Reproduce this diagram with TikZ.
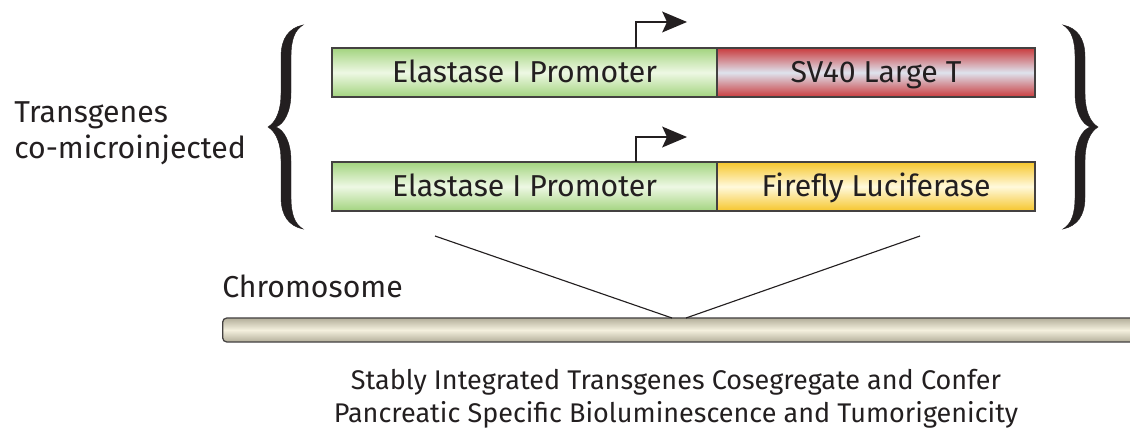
\documentclass[tikz,border=0pt]{standalone}
\usepackage{fontspec}
\setmainfont{Fira Sans}
\usetikzlibrary{positioning,arrows.meta}

\definecolor{ink}{HTML}{231F20}
\definecolor{promedge}{HTML}{A3D47F}
\definecolor{prommid}{HTML}{EEF8E4}
\definecolor{tagedge}{HTML}{C93B3D}
\definecolor{tagmid}{HTML}{DEE3EE}
\definecolor{lucedge}{HTML}{F6C62C}
\definecolor{lucmid}{HTML}{FFF9DC}
\definecolor{chromedge}{HTML}{B3AE9A}
\definecolor{chrommid}{HTML}{F4F0DE}

% curly brace, tip at the origin, opening to the right
\newcommand\bracepath{(0,0) .. controls (8,-5) and (13,-16) .. (13,-34) -- (13,-70)
  .. controls (13,-89) and (21,-99) .. (35,-102) .. controls (27,-97) and (23,-88) .. (23,-70)
  -- (23,-34) .. controls (23,-15) and (16,-3) .. (8,0)
  .. controls (16,3) and (23,15) .. (23,34) -- (23,70)
  .. controls (23,88) and (27,97) .. (35,102) .. controls (21,99) and (13,89) .. (13,70)
  -- (13,34) .. controls (13,16) and (8,5) .. (0,0) -- cycle}

\begin{document}
\begin{tikzpicture}[x=0.025cm,y=-0.025cm,
  gene/.style={draw=ink!85,line width=1pt,minimum height=1.225cm,inner sep=0pt,outer sep=0pt,
    text=ink,font=\fontsize{21.5}{25}\selectfont,text height=0.52cm,text depth=0pt},
  promoter/.style={gene,minimum width=9.625cm,top color=promedge,bottom color=promedge,middle color=prommid},
  tag/.style={gene,minimum width=7.95cm,top color=tagedge,bottom color=tagedge,middle color=tagmid},
  luc/.style={gene,minimum width=7.95cm,top color=lucedge,bottom color=lucedge,middle color=lucmid},
  label/.style={text=ink,inner sep=0pt},
  tss/.style={line width=1.2pt,draw=ink,-{Stealth[length=0.62cm,width=0.52cm,inset=0.12cm]}},
  brace/.style={fill=ink,draw=ink,line width=0.3pt}]

\useasboundingbox (0,0) rectangle (1130,431);

% the two constructs
\node[promoter] (prom1) at (524.5,72.5) {Elastase I Promoter};
\node[tag] (sv40) [right=0pt of prom1] {SV40 Large T};
\node[promoter] (prom2) [below=1.625cm of prom1] {Elastase I Promoter};
\node[luc] (luc) [right=0pt of prom2] {Firefly Luciferase};

% transcription start arrows
\draw[tss] ([xshift=7.6cm]prom1.north west) |- ++(51,-26);
\draw[tss] ([xshift=7.6cm]prom2.north west) |- ++(51,-25);

% braces round both constructs
\fill[brace,shift={(268,127)}] \bracepath;
\fill[brace,shift={(1098,127)},xscale=-1] \bracepath;

\node[label,anchor=base west,font=\fontsize{21.5}{25}\selectfont] (tg1) at (14,123) {Transgenes};
\node[label,anchor=base west,font=\fontsize{21.5}{25}\selectfont] (tg2) at (14,159) {co-microinjected};

% chromosome and insertion site
\node[label,anchor=base west,font=\fontsize{21.5}{25}\selectfont] (chromlbl) at (222,298) {Chromosome};
\node[draw=ink!85,line width=0.9pt,rounded corners=3pt,minimum width=23cm,minimum height=0.6cm,
  inner sep=0pt,top color=chromedge,bottom color=chromedge,middle color=chrommid,anchor=west] (chrom) at (222,330) {};

\coordinate (ins1) at (435,236);
\coordinate (ins2) at (920,236);
\coordinate (site1) at (672,318);
\coordinate (site2) at (686,318);
\draw[ink,line width=0.8pt] (ins1) -- (site1);
\draw[ink,line width=0.8pt] (ins2) -- (site2);

\node[label,anchor=base,font=\fontsize{19.2}{20}\selectfont] (cap1) at (676,390) {Stably Integrated Transgenes Cosegregate and Confer};
\node[label,anchor=base,font=\fontsize{19.2}{20}\selectfont] (cap2) at (676,423) {Pancreatic Specific Bioluminescence and Tumorigenicity};
\end{tikzpicture}
\end{document}
